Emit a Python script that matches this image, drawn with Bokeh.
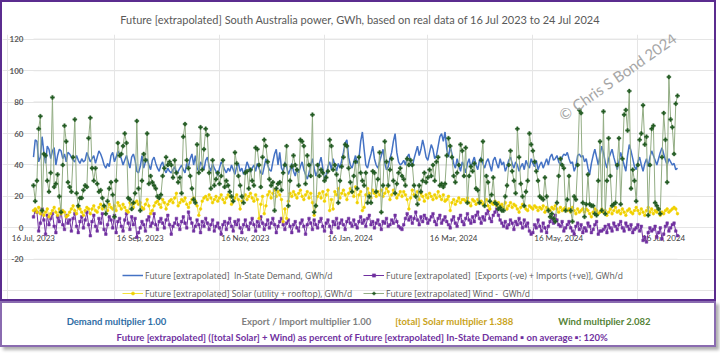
import pandas as pd
from bokeh.plotting import figure
from bokeh.models import Range1d, Label, LabelSet, ColumnDataSource, Legend, LegendItem
from bokeh.layouts import column
from bokeh.core.properties import value
from bokeh.embed import file_html
from bokeh.resources import INLINE

# ---------------- data (daily, from 16 Jul 2023) ----------------
start_date = "2023-07-16"

demand = [
    45, 56, 55, 42, 45, 58, 48, 41, 52, 50,
    44, 49, 51, 40, 46, 50, 49, 44, 47, 42,
    48, 47, 45, 43, 42, 46, 43, 41, 44, 42,
    43, 48, 45, 42, 44, 46, 41, 45, 49, 47,
    44, 40, 38, 41, 39, 46, 48, 42, 45, 49,
    47, 44, 40, 43, 46, 42, 38, 45, 47, 43,
    36, 35, 39, 46, 38, 42, 44, 40, 37, 43,
    45, 41, 38, 36, 40, 42, 37, 35, 38, 36,
    35, 37, 39, 34, 36, 38, 40, 37, 35, 41,
    39, 44, 47, 40, 46, 38, 36, 42, 40, 37,
    43, 45, 39, 36, 41, 38, 36, 33, 38, 42,
    40, 37, 35, 38, 36, 40, 37, 34, 39, 41,
    36, 38, 34, 37, 42, 39, 35, 38, 40, 36,
    41, 38, 35, 34, 39, 44, 40, 37, 36, 42,
    47, 50, 40, 48, 38, 36, 42, 39, 34, 37,
    41, 36, 33, 38, 35, 39, 42, 37, 34, 31,
    35, 40, 44, 38, 33, 36, 41, 45, 38, 30,
    34, 39, 42, 37, 44, 40, 36, 41, 38, 43,
    48, 54, 56, 45, 40, 38, 42, 46, 41, 44,
    55, 61, 50, 40, 38, 43, 47, 52, 44, 40,
    38, 42, 46, 50, 41, 37, 39, 44, 48, 55,
    60, 48, 42, 40, 41, 43, 40, 45, 47, 42,
    39, 44, 48, 52, 46, 50, 56, 51, 45, 43,
    48, 53, 50, 44, 46, 52, 58, 60, 55, 61,
    50, 45, 52, 47, 41, 38, 44, 40, 36, 42,
    39, 35, 41, 44, 38, 42, 45, 40, 37, 43,
    45, 41, 38, 42, 44, 40, 36, 43, 45, 41,
    38, 44, 40, 42, 36, 39, 43, 45, 41, 38,
    42, 40, 36, 39, 41, 37, 43, 40, 38, 44,
    41, 39, 43, 37, 40, 42, 38, 41, 44, 40,
    45, 47, 43, 44, 46, 42, 40, 45, 47, 46,
    48, 44, 41, 42, 36, 39, 46, 47, 45, 46,
    42, 44, 38, 34, 41, 46, 50, 45, 40, 46,
    52, 48, 42, 38, 44, 47, 50, 45, 41, 37,
    42, 48, 44, 40, 36, 46, 53, 49, 44, 39,
    37, 42, 45, 40, 36, 41, 44, 39, 45, 49,
    46, 43, 40, 44, 48, 51, 47, 43, 40, 44,
    42, 40, 41, 37, 38,
]

imports = [
    7, 11, 10, -2, 3, 12, 5, -4, 8, 2,
    6, 9, 1, -3, 7, 4, 11, 2, -1, 8,
    3, 5, -2, 6, 9, 1, -3, 4, 7, 0,
    5, 10, 2, -5, 4, 8, 1, -2, 6, 3,
    9, -1, -4, 2, 7, 5, 0, 8, -3, 4,
    6, 1, -2, 5, 9, 3, -1, 7, 2, 6,
    -6, -3, 0, 4, 2, -2, 5, 7, 1, 3,
    9, 2, -1, 4, 6, 3, 0, 5, 8, 2,
    -4, 1, 3, 6, 2, -1, 4, 7, 3, 0,
    10, 6, 3, -2, 1, 5, 2, -3, 4, 1,
    6, 3, -1, 2, 5, -2, 1, 3, 0, -4,
    2, 4, -1, 3, 6, 1, -2, 4, 2, 5,
    0, -3, 2, 5, 1, -1, 3, 6, 2, -2,
    4, 1, 7, 3, -1, 2, 5, 0, 3, 6,
    2, -3, 1, 4, 6, 2, -1, 3, 5, 1,
    -3, 2, 4, 0, -2, 3, 5, 1, -4, 2,
    6, 3, -1, 5, 2, 0, 4, 6, 1, -2,
    3, 5, 1, -3, 4, 2, 6, 0, 3, 5,
    2, -1, 4, 6, 3, 1, 5, 2, 0, 4,
    7, 3, 5, 1, 6, 8, 2, 4, 0, 3,
    5, 2, -1, 4, 3, 6, 1, 2, 5, 3,
    8, 4, 1, 0, -1, 2, 6, 9, 5, 7,
    3, 6, 10, 5, 2, 7, 4, 8, 6, 3,
    5, 7, 9, 4, 2, 6, 8, 3, 5, 7,
    4, 2, 0, 5, 7, 3, 1, 6, 8, 4,
    2, 6, 9, 5, 3, 7, 4, 8, 10, 6,
    3, 7, 5, 9, 11, 6, 4, 8, 10, 12,
    8, 5, 3, 1, 4, 0, 2, 5, 3, -1,
    4, 2, 6, 3, 0, 5, 1, 3, -2, -4,
    -3, 2, 0, 5, 1, -2, 3, 0, -3, 1,
    4, 6, 3, 8, 5, 2, 1, 4, -2, 0,
    2, 4, 0, -2, -4, 1, 3, -1, 2, -3,
    0, -2, 3, 1, -3, -1, 2, 4, -4, -2,
    -2, -1, 1, -3, 2, 0, -2, 3, 1, -1,
    2, 4, 0, -2, 3, 1, -1, 2, -3, -1,
    0, 2, -2, 1, -8, -6, -9, -3, 0, -2,
    -1, 1, -6, -3, 0, -7, -4, 1, 3, -2,
    0, 2, 3, -2, -5,
]

solar = [
    11, 12, 10, 13, 9, 11, 8, 10, 12, 7,
    9, 11, 13, 10, 8, 12, 9, 11, 10, 7,
    8, 10, 12, 14, 11, 9, 13, 12, 10, 8,
    11, 13, 12, 9, 12, 14, 11, 10, 13, 15,
    12, 14, 13, 11, 15, 13, 12, 14, 11, 16,
    14, 12, 15, 13, 11, 10, 16, 15, 13, 16,
    17, 15, 16, 13, 12, 15, 18, 14, 9, 11,
    14, 16, 17, 15, 13, 18, 16, 12, 15, 17,
    18, 16, 19, 22, 14, 16, 18, 17, 19, 15,
    13, 16, 18, 19, 17, 14, 8, 12, 17, 19,
    20, 18, 21, 19, 16, 18, 20, 17, 19, 21,
    18, 16, 19, 21, 20, 15, 17, 19, 21, 18,
    12, 17, 19, 21, 18, 20, 22, 19, 17, 21,
    18, 6, 15, 20, 9, 14, 21, 23, 19, 22,
    24, 20, 23, 21, 18, 4, 12, 6, 17, 22,
    20, 23, 21, 19, 22, 24, 20, 18, 21, 23,
    19, 22, 16, 8, 14, 20, 22, 19, 23, 17,
    21, 24, 11, 18, 12, 23, 21, 25, 19, 22,
    24, 21, 18, 22, 25, 23, 20, 26, 16, 21,
    23, 11, 13, 21, 25, 22, 19, 24, 22, 20,
    23, 21, 24, 20, 22, 25, 23, 18, 21, 24,
    22, 19, 21, 23, 20, 23, 21, 18, 12, 19,
    24, 21, 20, 23, 18, 22, 20, 17, 21, 19,
    22, 20, 18, 21, 19, 23, 20, 18, 21, 17,
    18, 20, 11, 16, 18, 15, 17, 19, 16, 18,
    18, 17, 19, 16, 14, 18, 17, 15, 18, 16,
    17, 15, 16, 18, 14, 12, 16, 15, 17, 14,
    16, 14, 15, 13, 16, 12, 14, 16, 13, 15,
    14, 12, 10, 13, 15, 14, 12, 11, 14, 13,
    12, 14, 13, 11, 13, 12, 14, 10, 13, 12,
    11, 13, 12, 14, 12, 10, 13, 11, 12, 13,
    11, 12, 10, 13, 11, 9, 12, 10, 11, 12,
    10, 12, 11, 9, 7, 10, 12, 11, 9, 10,
    12, 10, 11, 8, 10, 12, 9, 11, 13, 10,
    11, 9, 12, 10, 8, 11, 12, 10, 9, 11,
    13, 11, 9, 12, 10, 8, 11, 13, 10, 12,
    9, 11, 10, 12, 8, 10, 9, 11, 12, 10,
    11, 12, 13, 12, 9,
]

wind = [
    27, 17, 30, 63, 71, 11, 47, 46, 30, 23,
    35, 83, 26, 28, 34, 20, 10, 40, 65, 55,
    29, 26, 23, 45, 69, 22, 14, 19, 19, 24,
    27, 26, 57, 70, 38, 30, 38, 28, 23, 24,
    19, 14, 9, 17, 25, 29, 21, 7, 30, 54,
    46, 47, 52, 60, 54, 19, 18, 12, 16, 22,
    68, 25, 11, 30, 47, 43, 60, 28, 33, 29,
    27, 25, 20, 19, 21, 33, 38, 45, 40, 42,
    40, 32, 43, 35, 29, 32, 22, 58, 66, 43,
    38, 33, 25, 18, 16, 53, 35, 64, 37, 50,
    63, 59, 35, 25, 43, 27, 31, 35, 28, 33,
    43, 26, 30, 27, 23, 20, 17, 48, 41, 33,
    27, 20, 16, 35, 36, 25, 37, 30, 27, 51,
    50, 40, 26, 45, 56, 52, 42, 31, 27, 29,
    11, 25, 28, 29, 24, 35, 40, 52, 14, 30,
    39, 46, 40, 37, 27, 56, 55, 52, 28, 46,
    40, 33, 72, 10, 14, 40, 33, 37, 35, 30,
    32, 36, 56, 52, 37, 40, 34, 16, 30, 39,
    45, 53, 52, 38, 29, 23, 33, 42, 25, 45,
    35, 30, 27, 35, 16, 20, 16, 36, 35, 23,
    31, 48, 10, 27, 55, 42, 27, 37, 44, 30,
    22, 28, 35, 38, 33, 31, 27, 44, 40, 43,
    40, 27, 20, 15, 27, 23, 30, 35, 29, 32,
    37, 33, 40, 30, 42, 45, 27, 28, 26, 28,
    46, 57, 52, 45, 33, 29, 35, 40, 53, 49,
    33, 51, 16, 33, 39, 36, 41, 25, 24, 16,
    43, 55, 14, 33, 29, 17, 21, 32, 16, 15,
    12, 13, 11, 11, 20, 27, 40, 49, 36, 30,
    22, 63, 45, 28, 20, 14, 23, 30, 60, 53,
    49, 42, 36, 30, 20, 19, 18, 32, 20, 11,
    7, 9, 6, 4, 16, 33, 44, 40, 38, 11,
    18, 33, 11, 4, 20, 18, 40, 75, 73, 16,
    7, 15, 34, 15, 14, 14, 9, 8, 30, 55,
    11, 74, 9, 30, 57, 33, 14, 15, 16, 40,
    57, 15, 44, 72, 75, 62, 87, 25, 37, 30,
    17, 40, 56, 60, 78, 53, 58, 8, 40, 63,
    65, 16, 14, 12, 9, 45, 73, 56, 29, 96,
    69, 64, 47, 79, 84,
]

x_tick_dates = ["2023-07-16", "2023-09-16", "2023-11-16", "2024-01-16",
                "2024-03-16", "2024-05-16", "2024-07-16"]
x_tick_labels = ["16 Jul, 2023", "16 Sep, 2023", "16 Nov, 2023", "16 Jan, 2024",
                 "16 Mar, 2024", "16 May, 2024", "16 Jul, 2024"]
y_ticks = [-20, 0, 20, 40, 60, 80, 100, 120]

title_text = "Future [extrapolated] South Australia power, GWh, based on real data of 16 Jul 2023 to 24 Jul 2024"
series_names = [
    "Future [extrapolated]  In-State Demand, GWh/d",
    "Future [extrapolated]  [Exports (-ve) + Imports (+ve)], GWh/d",
    "Future [extrapolated] Solar (utility + rooftop), GWh/d",
    "Future [extrapolated] Wind -  GWh/d",
]
demand_mult = "1.00"
export_mult = "1.00"
solar_mult = "1.388"
wind_mult = "2.082"
renew_pct = "120%"

# ---------------- styling ----------------
FONT = "Lato"
C_DEM = "#4472c4"
C_IMP = "#7030a0"
C_SOL_L = "#f3e03a"
C_SOL_M = "#f0d000"
C_WIND_L = "#93ad84"
C_WIND_M = "#235c23"
GRAY = "#595959"

n = len(demand)
dates = pd.date_range(start_date, periods=n, freq="D")
src = ColumnDataSource(dict(date=dates, demand=demand, imports=imports[:n],
                            solar=solar[:n], wind=wind[:n]))

# The frame covers the whole canvas width and reaches below the -20 line, so the
# Excel-style axis labels and the legend are not clipped; the data span starts
# 31 px in from the left edge and ends 41 px before the right edge.
PX_PER_DAY = 644 / (n - 1)
x_lo = dates[0] - pd.Timedelta(days=31 / PX_PER_DAY)
x_hi = dates[-1] + pd.Timedelta(days=41 / PX_PER_DAY)

p = figure(width=716, height=301,
           x_range=Range1d(x_lo, x_hi), y_range=Range1d(-48.1, 123),
           x_axis_type="datetime", x_axis_location=None, y_axis_location=None,
           toolbar_location=None, output_backend="svg",
           min_border_left=0, min_border_right=0, min_border_top=30, min_border_bottom=0,
           styles={"border": "2px solid #5b2c8f"})
p.outline_line_color = None
p.background_fill_color = "white"
p.border_fill_color = "white"

p.title.text = title_text
p.title.align = "center"
p.title.text_font = FONT
p.title.text_font_size = "11px"
p.title.text_font_style = "normal"
p.title.text_color = GRAY
p.title.standoff = 17

# horizontal gridlines over the date span
grid_src = ColumnDataSource(dict(x0=[dates[0]] * len(y_ticks), x1=[dates[-1]] * len(y_ticks),
                                 y=y_ticks, text=[str(t) for t in y_ticks]))
p.segment(x0="x0", x1="x1", y0="y", y1="y", source=grid_src,
          line_color="#d9d9d9", line_width=1, level="underlay")

# value-axis labels
p.add_layout(LabelSet(x="x0", y="y", text="text", source=grid_src, level="underlay",
                      text_align="right", text_baseline="middle", x_offset=-10,
                      text_font=value(FONT), text_font_style="bold",
                      text_font_size=value("8px"), text_color=GRAY))

# date labels sitting on the zero line (Excel style)
tick_src = ColumnDataSource(dict(x=pd.to_datetime(x_tick_dates), y=[0] * len(x_tick_dates),
                                 text=x_tick_labels))
p.add_layout(LabelSet(x="x", y="y", text="text", source=tick_src, level="underlay",
                      text_align="center", text_baseline="top", y_offset=-5,
                      text_font=value(FONT), text_font_size=value("8px"), text_color="#404040"))

r_dem = p.line("date", "demand", source=src, line_color=C_DEM, line_width=1.5)
r_imp_l = p.line("date", "imports", source=src, line_color=C_IMP, line_width=1)
r_imp_m = p.scatter("date", "imports", source=src, marker="square", size=2.6,
                    fill_color=C_IMP, line_color=C_IMP, line_width=0.5)
r_sol_l = p.line("date", "solar", source=src, line_color=C_SOL_L, line_width=1)
r_sol_m = p.scatter("date", "solar", source=src, marker="circle", size=2.8,
                    fill_color=C_SOL_M, line_color=C_SOL_M, line_width=0.5)
r_wind_l = p.line("date", "wind", source=src, line_color=C_WIND_L, line_width=1)
r_wind_m = p.scatter("date", "wind", source=src, marker="plus", size=4,
                     fill_color=C_WIND_M, line_color=C_WIND_M, line_width=0.4)

def make_legend(items, loc):
    lg = Legend(items=items, location=loc, orientation="vertical")
    lg.padding = 0
    lg.margin = 0
    lg.border_line_color = None
    lg.background_fill_alpha = 0
    lg.label_text_font = "Open Sans"
    lg.label_text_font_size = "8.5px"
    lg.label_text_color = GRAY
    lg.glyph_width = 21
    lg.glyph_height = 8
    lg.label_height = 14
    lg.spacing = 4
    lg.label_standoff = 2
    return lg

p.add_layout(make_legend([LegendItem(label=series_names[0], renderers=[r_dem]),
                          LegendItem(label=series_names[2], renderers=[r_sol_l, r_sol_m])],
                         (120, 3)))
p.add_layout(make_legend([LegendItem(label=series_names[1], renderers=[r_imp_l, r_imp_m]),
                          LegendItem(label=series_names[3], renderers=[r_wind_l, r_wind_m])],
                         (361, 3)))

wm_x = pd.Timestamp("2024-06-20").timestamp() * 1000
p.add_layout(Label(x=wm_x, y=97, text="\u00a9 Chris S Bond  2024", angle=35, angle_units="deg",
                   text_align="center", text_baseline="middle",
                   text_font=FONT, text_font_size="15px", text_color="#a6a6a6"))

# ---------------- lower info box ----------------
p2 = figure(width=716, height=46, x_range=(0, 716), y_range=(0, 46),
            x_axis_location=None, y_axis_location=None,
            toolbar_location=None, output_backend="svg", min_border=0,
            styles={"border": "2px solid #8a6bb0", "box-shadow": "3px 3px 3px #b0b0b0"})
p2.outline_line_color = None
p2.grid.visible = False

info = [
    (114, 28, "Demand multiplier " + demand_mult, "#2e6da4"),
    (304, 28, "Export / Import multiplier " + export_mult, "#7f7f7f"),
    (452, 28, "[total] Solar multiplier " + solar_mult, "#c9a31a"),
    (602, 28, "Wind multiplier " + wind_mult, "#548235"),
    (361, 12, "Future [extrapolated]  ([total Solar] + Wind) as percent of Future [extrapolated] "
              "In-State Demand \u25aa on average \u25aa: " + renew_pct, "#7030a0"),
]
for x, y, t, c in info:
    p2.add_layout(Label(x=x, y=y, text=t, text_align="center", text_baseline="middle",
                        text_font=FONT, text_font_style="bold", text_font_size="9.5px",
                        text_color=c))

layout = column(p, p2, spacing=0)
open("out.html", "w").write(file_html(layout, INLINE))
